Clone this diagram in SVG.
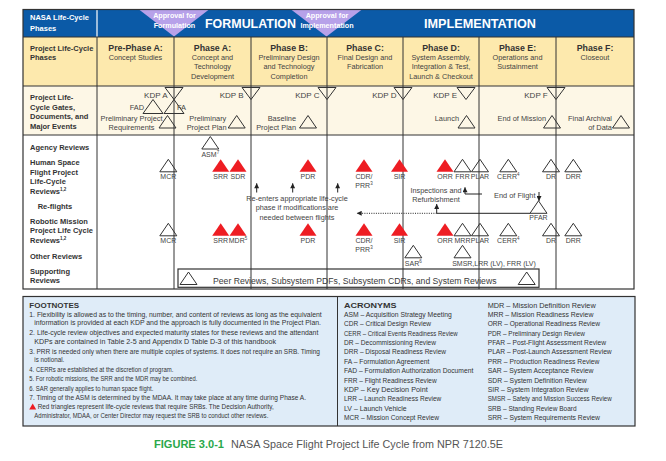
<svg xmlns="http://www.w3.org/2000/svg" xmlns:xlink="http://www.w3.org/1999/xlink" width="666" height="461" viewBox="0 0 666 461">
<defs>
<path id="tri" d="M0,0 L8.5,12.5 L-8.5,12.5 Z"/>
<path id="tri2" d="M0,0 L10,14 L-10,14 Z"/>
<path id="itri" d="M-9,0 L9,0 L0,12 Z"/>
<marker id="ah" viewBox="0 0 10 10" refX="10" refY="5" markerWidth="7" markerHeight="5" markerUnits="userSpaceOnUse" orient="auto"><path d="M0,0 L10,5 L0,10 Z" fill="#222"/></marker>
</defs>
<style>
text{font-family:"Liberation Sans",Arial,sans-serif;fill:#3a3a3a}
.hd{font-weight:bold;fill:#fff}
.lb{font-weight:bold;font-size:7.5px;fill:#333}
.pt{font-weight:bold;font-size:8.8px;text-anchor:middle;fill:#333}
.ps{font-size:7.3px;text-anchor:middle;fill:#444}
.kd{font-size:8px;text-anchor:end;fill:#444}
.g{font-size:7.4px;fill:#444}
.ge{font-size:7.4px;fill:#444;text-anchor:end}
.rv{font-size:7px;text-anchor:middle;fill:#444}
.o{fill:none;stroke:#333;stroke-width:1}
.r{fill:#ee1d23;stroke:none}
.fn{font-size:7px;fill:#333}
.ac{font-size:7px;fill:#333}
.bh{font-size:8px;font-weight:bold;fill:#333}
.cap1{font-size:10.5px;font-weight:bold;fill:#2aa84a}
.cap2{font-size:10.5px;fill:#555}
.grid{stroke:#333;stroke-width:1;fill:none}
.cn{stroke:#222;stroke-width:1;fill:none}
</style>

<g id="table">
<rect x="23" y="9.5" width="611" height="27.5" fill="#0b5aa7"/>
<rect x="23" y="37" width="611" height="49" fill="#fde9ad"/>
<rect x="23" y="86" width="611" height="49" fill="#fdf7e6"/>
<rect x="23" y="135" width="611" height="154" fill="#ffffff"/>
<polygon points="139,9.5 209,9.5 174,36.5" fill="#b7a1e9"/>
<polygon points="291,9.5 362,9.5 326.5,36.5" fill="#b7a1e9"/>
<line x1="97" y1="9.5" x2="97" y2="37" stroke="#fff" stroke-width="1.2"/>
<g class="grid">
<line x1="23" y1="37" x2="634" y2="37"/>
<line x1="23" y1="86" x2="634" y2="86"/>
<line x1="23" y1="135" x2="634" y2="135"/>
<line x1="97" y1="37" x2="97" y2="289"/>
<line x1="174" y1="37" x2="174" y2="289"/>
<line x1="251" y1="37" x2="251" y2="289"/>
<line x1="327" y1="37" x2="327" y2="289"/>
<line x1="403" y1="37" x2="403" y2="289"/>
<line x1="479" y1="37" x2="479" y2="289"/>
<line x1="556" y1="37" x2="556" y2="289"/>
<rect x="23" y="9.5" width="611" height="279.5" stroke-width="1.2"/>
</g>
</g>

<g id="header">
<text class="hd" x="30" y="20.4" font-size="7.5">NASA Life-Cycle</text>
<text class="hd" x="30" y="30.7" font-size="7.5">Phases</text>
<text class="hd" x="174.5" y="18.3" font-size="7.2" text-anchor="middle">Approval for</text>
<text class="hd" x="174.5" y="28" font-size="7.2" text-anchor="middle">Formulation</text>
<text class="hd" x="327" y="18.3" font-size="7.2" text-anchor="middle">Approval for</text>
<text class="hd" x="327" y="28" font-size="7.2" text-anchor="middle">Implementation</text>
<text class="hd" x="205" y="28.3" font-size="12.5" textLength="91" lengthAdjust="spacingAndGlyphs">FORMULATION</text>
<text class="hd" x="424" y="28.3" font-size="12.5" textLength="112" lengthAdjust="spacingAndGlyphs">IMPLEMENTATION</text>
</g>

<g id="phases">
<text class="lb" x="30" y="51">Project Life-Cycle</text>
<text class="lb" x="30" y="60">Phases</text>
<g id="pre-phase-a"><text class="pt" x="135.5" y="51.3">Pre-Phase A:</text><text class="ps" x="135.5" y="60">Concept Studies</text></g>
<g id="phase-a"><text class="pt" x="212.5" y="51.3">Phase A:</text><text class="ps" x="212.5" y="60">Concept and</text><text class="ps" x="212.5" y="69.4">Technology</text><text class="ps" x="212.5" y="78.7">Development</text></g>
<g id="phase-b"><text class="pt" x="289" y="51.3">Phase B:</text><text class="ps" x="289" y="60">Preliminary Design</text><text class="ps" x="289" y="69.4">and Technology</text><text class="ps" x="289" y="78.7">Completion</text></g>
<g id="phase-c"><text class="pt" x="365" y="51.3">Phase C:</text><text class="ps" x="365" y="60">Final Design and</text><text class="ps" x="365" y="69.4">Fabrication</text></g>
<g id="phase-d"><text class="pt" x="441" y="51.3">Phase D:</text><text class="ps" x="441" y="60">System Assembly,</text><text class="ps" x="441" y="69.4">Integration &amp; Test,</text><text class="ps" x="441" y="78.7">Launch &amp; Checkout</text></g>
<g id="phase-e"><text class="pt" x="517.5" y="51.3">Phase E:</text><text class="ps" x="517.5" y="60">Operations and</text><text class="ps" x="517.5" y="69.4">Sustainment</text></g>
<g id="phase-f"><text class="pt" x="595" y="51.3">Phase F:</text><text class="ps" x="595" y="60">Closeout</text></g>
</g>

<g id="gates">
<text class="lb" x="30" y="100">Project Life-</text>
<text class="lb" x="30" y="109.7">Cycle Gates,</text>
<text class="lb" x="30" y="119">Documents, and</text>
<text class="lb" x="30" y="128.7">Major Events</text>
<g id="kdp-a"><use xlink:href="#itri" x="174" y="87.5" class="o"/><text class="kd" x="167.5" y="98">KDP A</text></g>
<g id="kdp-b"><use xlink:href="#itri" x="251" y="87.5" class="o"/><text class="kd" x="243.5" y="98">KDP B</text></g>
<g id="kdp-c"><use xlink:href="#itri" x="327" y="87.5" class="o"/><text class="kd" x="319.5" y="98">KDP C</text></g>
<g id="kdp-d"><use xlink:href="#itri" x="403" y="87.5" class="o"/><text class="kd" x="396.5" y="98">KDP D</text></g>
<g id="kdp-e"><use xlink:href="#itri" x="466" y="87.5" class="o"/><text class="kd" x="457" y="98">KDP E</text></g>
<g id="kdp-f"><use xlink:href="#itri" x="556" y="87.5" class="o"/><text class="kd" x="547.7" y="98">KDP F</text></g>
<g id="fad"><use xlink:href="#tri2" x="153" y="99.5" class="o"/><text class="ge" x="144" y="110">FAD</text></g>
<g id="fa"><use xlink:href="#tri2" x="174" y="99.5" class="o"/><text class="g" x="177" y="110">FA</text></g>
<g id="prelim-req"><use xlink:href="#tri" x="167.5" y="115.5" class="o"/><text class="g" x="131.5" y="121" text-anchor="middle">Preliminary Project</text><text class="g" x="131.5" y="130.3" text-anchor="middle">Requirements</text></g>
<g id="prelim-plan"><use xlink:href="#tri" x="236.7" y="115.5" class="o"/><text class="ge" x="226.3" y="121">Preliminary</text><text class="ge" x="226.5" y="130.3">Project Plan</text></g>
<g id="baseline-plan"><use xlink:href="#tri" x="308" y="115.5" class="o"/><text class="ge" x="296" y="121">Baseline</text><text class="ge" x="296" y="130.3">Project Plan</text></g>
<g id="launch"><use xlink:href="#tri" x="466.5" y="115.5" class="o"/><text class="ge" x="459" y="121">Launch</text></g>
<g id="end-mission"><use xlink:href="#tri" x="552" y="115.5" class="o"/><text class="ge" x="546" y="121">End of Mission</text></g>
<g id="final-archival"><use xlink:href="#tri" x="621" y="115.5" class="o"/><text class="ge" x="612" y="121">Final Archival</text><text class="ge" x="612" y="130.3">of Data</text></g>
</g>

<g id="row-labels">
<text class="lb" x="30" y="149.5">Agency Reviews</text>
<text class="lb" x="30" y="165">Human Space</text>
<text class="lb" x="30" y="174.7">Flight Project</text>
<text class="lb" x="30" y="184">Life-Cycle</text>
<text class="lb" x="30" y="193.7">Reviews<tspan font-size="4.5" dy="-3">1,2</tspan></text>
<text class="lb" x="37.7" y="208.8">Re-flights</text>
<text class="lb" x="30" y="223.8">Robotic Mission</text>
<text class="lb" x="30" y="233.4">Project Life Cycle</text>
<text class="lb" x="30" y="242.5">Reviews<tspan font-size="4.5" dy="-3">1,2</tspan></text>
<text class="lb" x="30" y="258.8">Other Reviews</text>
<text class="lb" x="30" y="273.8">Supporting</text>
<text class="lb" x="30" y="282.8">Reviews</text>
</g>

<g id="agency">
<g id="asm"><use xlink:href="#tri" x="210.3" y="136.5" class="o"/><text class="rv" x="210.3" y="157">ASM<tspan font-size="4.5" dy="-3">7</tspan></text></g>
</g>

<g id="human">
<g id="h-mcr"><use xlink:href="#tri" x="168.3" y="159.3" class="o"/><text class="rv" x="168.3" y="179.3">MCR</text></g>
<g id="h-srr"><use xlink:href="#tri" x="220.7" y="159.3" class="r"/><text class="rv" x="220.7" y="179.3">SRR</text></g>
<g id="h-sdr"><use xlink:href="#tri" x="238" y="159.3" class="r"/><text class="rv" x="238" y="179.3">SDR</text></g>
<g id="h-pdr"><use xlink:href="#tri" x="308" y="159.3" class="r"/><text class="rv" x="308" y="179.3">PDR</text></g>
<g id="h-cdr"><use xlink:href="#tri" x="364" y="159.3" class="r"/><text class="rv" x="364" y="179.3">CDR/</text><text class="rv" x="364" y="188.3">PRR<tspan font-size="4.5" dy="-3">3</tspan></text></g>
<g id="h-sir"><use xlink:href="#tri" x="399.5" y="159.3" class="r"/><text class="rv" x="399.5" y="179.3">SIR</text></g>
<g id="h-orr"><use xlink:href="#tri" x="445" y="159.3" class="r"/><text class="rv" x="445" y="179.3">ORR</text></g>
<g id="h-frr"><use xlink:href="#tri" x="462.5" y="159.3" class="o"/><text class="rv" x="462.5" y="179.3">FRR</text></g>
<g id="h-plar"><use xlink:href="#tri" x="480" y="159.3" class="o"/><text class="rv" x="480" y="179.3">PLAR</text></g>
<g id="h-cerr"><use xlink:href="#tri" x="508.3" y="159.3" class="o"/><text class="rv" x="508.3" y="179.3">CERR<tspan font-size="4.5" dy="-3">4</tspan></text></g>
<g id="h-dr"><use xlink:href="#tri" x="551" y="159.3" class="o"/><text class="rv" x="551" y="179.3">DR</text></g>
<g id="h-drr"><use xlink:href="#tri" x="573.3" y="159.3" class="o"/><text class="rv" x="573.3" y="179.3">DRR</text></g>
</g>

<g id="reflights">
<text class="ps" x="297" y="200.9">Re-enters appropriate life-cycle</text>
<text class="ps" x="297" y="210.3">phase if modifications are</text>
<text class="ps" x="297" y="219.9">needed between flights</text>
<text class="ps" x="436" y="192.6">Inspections and</text>
<text class="ps" x="436" y="201.6">Refurbishment</text>
<text class="g" x="494" y="197.5" font-size="7.3">End of Flight</text>
<g id="pfar"><use xlink:href="#tri" x="538.5" y="200.8" class="o"/><text class="rv" x="538.5" y="220.2">PFAR</text></g>
</g>

<g id="robotic">
<g id="r-mcr"><use xlink:href="#tri" x="168.3" y="223.3" class="o"/><text class="rv" x="168.3" y="243.3">MCR</text></g>
<g id="r-srr"><use xlink:href="#tri" x="220.7" y="223.3" class="r"/><text class="rv" x="220.7" y="243.3">SRR</text></g>
<g id="r-mdr"><use xlink:href="#tri" x="238" y="223.3" class="r"/><text class="rv" x="238" y="243.3">MDR<tspan font-size="4.5" dy="-3">5</tspan></text></g>
<g id="r-pdr"><use xlink:href="#tri" x="308" y="223.3" class="r"/><text class="rv" x="308" y="243.3">PDR</text></g>
<g id="r-cdr"><use xlink:href="#tri" x="364" y="223.3" class="r"/><text class="rv" x="364" y="243.3">CDR/</text><text class="rv" x="364" y="252.3">PRR<tspan font-size="4.5" dy="-3">3</tspan></text></g>
<g id="r-sir"><use xlink:href="#tri" x="399.5" y="223.3" class="r"/><text class="rv" x="399.5" y="243.3">SIR</text></g>
<g id="r-orr"><use xlink:href="#tri" x="445" y="223.3" class="r"/><text class="rv" x="445" y="243.3">ORR</text></g>
<g id="r-mrr"><use xlink:href="#tri" x="462.5" y="223.3" class="o"/><text class="rv" x="462.5" y="243.3">MRR</text></g>
<g id="r-plar"><use xlink:href="#tri" x="480" y="223.3" class="o"/><text class="rv" x="480" y="243.3">PLAR</text></g>
<g id="r-cerr"><use xlink:href="#tri" x="508.3" y="223.3" class="o"/><text class="rv" x="508.3" y="243.3">CERR<tspan font-size="4.5" dy="-3">4</tspan></text></g>
<g id="r-dr"><use xlink:href="#tri" x="551" y="223.3" class="o"/><text class="rv" x="551" y="243.3">DR</text></g>
<g id="r-drr"><use xlink:href="#tri" x="573.3" y="223.3" class="o"/><text class="rv" x="573.3" y="243.3">DRR</text></g>
</g>

<g id="other">
<g id="sar"><use xlink:href="#tri" x="413.3" y="245.3" class="o"/><text class="rv" x="413.3" y="265.5">SAR<tspan font-size="4.5" dy="-3">6</tspan></text></g>
<g id="smsr"><use xlink:href="#tri" x="462.5" y="245.3" class="o"/><text class="rv" x="494" y="265.8">SMSR,LRR (LV), FRR (LV)</text></g>
</g>

<g id="supporting">
<rect x="178" y="269" width="361" height="18.3" fill="none" stroke="#333" stroke-width="1.2"/>
<use xlink:href="#tri" x="188.5" y="272" class="o"/>
<use xlink:href="#tri" x="526.7" y="272" class="o"/>
<text x="213" y="284" font-size="8.5" textLength="283.5" lengthAdjust="spacingAndGlyphs">Peer Reviews, Subsystem PDFs, Subsystem CDRs, and System Reviews</text>
</g>

<g id="connectors">
<line class="cn" x1="256.7" y1="192.5" x2="256.7" y2="183.3" marker-end="url(#ah)"/>
<line class="cn" x1="292.7" y1="192.5" x2="292.7" y2="183.3" marker-end="url(#ah)"/>
<line class="cn" x1="337.7" y1="192.5" x2="337.7" y2="183.3" marker-end="url(#ah)"/>
<line class="cn" x1="436.7" y1="213.3" x2="356.7" y2="213.3" stroke-dasharray="1,1.3" marker-end="url(#ah)"/>
<line class="cn" x1="436.7" y1="213.3" x2="530" y2="213.3"/>
<line class="cn" x1="436.7" y1="213.3" x2="436.7" y2="204" marker-end="url(#ah)"/>
<polyline class="cn" points="482,194 465,194 465,187.3" marker-end="url(#ah)"/>
<line class="cn" x1="539" y1="192" x2="539" y2="201" marker-end="url(#ah)"/>
</g>

<g id="footnotes">
<rect x="23" y="296.5" width="612" height="129.5" fill="#dfecf8" stroke="#333" stroke-width="1.2"/>
<line x1="337.5" y1="296.5" x2="337.5" y2="426" stroke="#333" stroke-width="1"/>
<text class="bh" x="29.3" y="307.7">FOOTNOTES</text>
<text class="fn" x="29.3" y="316.7" textLength="292.4" lengthAdjust="spacingAndGlyphs">1. Flexibility is allowed as to the timing, number, and content of reviews as long as the equivalent</text>
<text class="fn" x="34.3" y="325" textLength="286.7" lengthAdjust="spacingAndGlyphs">information is provided at each KDP and the approach is fully documented in the Project Plan.</text>
<text class="fn" x="29.3" y="335.2" textLength="289" lengthAdjust="spacingAndGlyphs">2. Life-cycle review objectives and expected maturity states for these reviews and the attendant</text>
<text class="fn" x="34.3" y="343.5" textLength="241.7" lengthAdjust="spacingAndGlyphs">KDPs are contained in Table 2-5 and Appendix D Table D-3 of this handbook</text>
<text class="fn" x="29.3" y="354.2" textLength="290.7" lengthAdjust="spacingAndGlyphs">3. PRR is needed only when there are multiple copies of systems. It does not require an SRB. Timing</text>
<text class="fn" x="34.3" y="362.2" textLength="30" lengthAdjust="spacingAndGlyphs">is notional.</text>
<text class="fn" x="29.3" y="372.2" textLength="144" lengthAdjust="spacingAndGlyphs">4. CERRs are established at the discretion of program.</text>
<text class="fn" x="29.3" y="381.2" textLength="168" lengthAdjust="spacingAndGlyphs">5. For robotic missions, the SRR and the MDR may be combined.</text>
<text class="fn" x="29.3" y="390.5" textLength="124" lengthAdjust="spacingAndGlyphs">6. SAR generally applies to human space flight.</text>
<text class="fn" x="29.3" y="399.5" textLength="276.7" lengthAdjust="spacingAndGlyphs">7. Timing of the ASM is determined by the MDAA. It may take place at any time during Phase A.</text>
<polygon points="32.7,403.4 36.2,409.4 29.2,409.4" fill="#ee1d23"/>
<text class="fn" x="37.7" y="409.2" textLength="236" lengthAdjust="spacingAndGlyphs">Red triangles represent life-cycle reviews that require SRBs. The Decision Authority,</text>
<text class="fn" x="34.3" y="417.8" textLength="234" lengthAdjust="spacingAndGlyphs">Administrator, MDAA, or Center Director may request the SRB to conduct other reviews.</text>
</g>

<g id="acronyms">
<text class="bh" x="344" y="307.7" textLength="52.5" lengthAdjust="spacingAndGlyphs">ACRONYMS</text>
<text class="ac" x="344" y="316.8" textLength="107.7" lengthAdjust="spacingAndGlyphs">ASM – Acquisition Strategy Meeting</text>
<text class="ac" x="344" y="326.2" textLength="87" lengthAdjust="spacingAndGlyphs">CDR – Critical Design Review</text>
<text class="ac" x="344" y="335.6" textLength="113.7" lengthAdjust="spacingAndGlyphs">CERR – Critical Events Readiness Review</text>
<text class="ac" x="344" y="344.9" textLength="92" lengthAdjust="spacingAndGlyphs">DR – Decommissioning Review</text>
<text class="ac" x="344" y="354.3" textLength="102" lengthAdjust="spacingAndGlyphs">DRR – Disposal Readiness Review</text>
<text class="ac" x="344" y="363.7" textLength="85.3" lengthAdjust="spacingAndGlyphs">FA – Formulation Agreement</text>
<text class="ac" x="344" y="373.1" textLength="129.3" lengthAdjust="spacingAndGlyphs">FAD – Formulation Authorization Document</text>
<text class="ac" x="344" y="382.5" textLength="92.7" lengthAdjust="spacingAndGlyphs">FRR – Flight Readiness Review</text>
<text class="ac" x="344" y="391.9" textLength="83.7" lengthAdjust="spacingAndGlyphs">KDP – Key Decision Point</text>
<text class="ac" x="344" y="401.3" textLength="97.3" lengthAdjust="spacingAndGlyphs">LRR – Launch Readiness Review</text>
<text class="ac" x="344" y="410.7" textLength="62.7" lengthAdjust="spacingAndGlyphs">LV – Launch Vehicle</text>
<text class="ac" x="344" y="420.1" textLength="95" lengthAdjust="spacingAndGlyphs">MCR – Mission Concept Review</text>
<text class="ac" x="487.7" y="307.5" textLength="108" lengthAdjust="spacingAndGlyphs">MDR – Mission Definition Review</text>
<text class="ac" x="487.7" y="316.8" textLength="105.7" lengthAdjust="spacingAndGlyphs">MRR – Mission Readiness Review</text>
<text class="ac" x="487.7" y="326.2" textLength="112.3" lengthAdjust="spacingAndGlyphs">ORR – Operational Readiness Review</text>
<text class="ac" x="487.7" y="335.6" textLength="97.3" lengthAdjust="spacingAndGlyphs">PDR – Preliminary Design Review</text>
<text class="ac" x="487.7" y="344.9" textLength="118.3" lengthAdjust="spacingAndGlyphs">PFAR – Post-Flight Assessment Review</text>
<text class="ac" x="487.7" y="354.3" textLength="124" lengthAdjust="spacingAndGlyphs">PLAR – Post-Launch Assessment Review</text>
<text class="ac" x="487.7" y="363.7" textLength="111.7" lengthAdjust="spacingAndGlyphs">PRR – Production Readiness Review</text>
<text class="ac" x="487.7" y="373.1" textLength="105.7" lengthAdjust="spacingAndGlyphs">SAR – System Acceptance Review</text>
<text class="ac" x="487.7" y="382.5" textLength="99" lengthAdjust="spacingAndGlyphs">SDR – System Definition Review</text>
<text class="ac" x="487.7" y="391.9" textLength="100.7" lengthAdjust="spacingAndGlyphs">SIR – System Integration Review</text>
<text class="ac" x="487.7" y="401.3" textLength="124" lengthAdjust="spacingAndGlyphs">SMSR – Safety and Mission Success Review</text>
<text class="ac" x="487.7" y="410.7" textLength="89" lengthAdjust="spacingAndGlyphs">SRB – Standing Review Board</text>
<text class="ac" x="487.7" y="420.1" textLength="112.3" lengthAdjust="spacingAndGlyphs">SRR – System Requirements Review</text>
</g>

<g id="caption">
<text class="cap1" x="154" y="448" textLength="70" lengthAdjust="spacingAndGlyphs">FIGURE 3.0-1</text>
<text class="cap2" x="231" y="448" textLength="272" lengthAdjust="spacingAndGlyphs">NASA Space Flight Project Life Cycle from NPR 7120.5E</text>
</g>
</svg>
